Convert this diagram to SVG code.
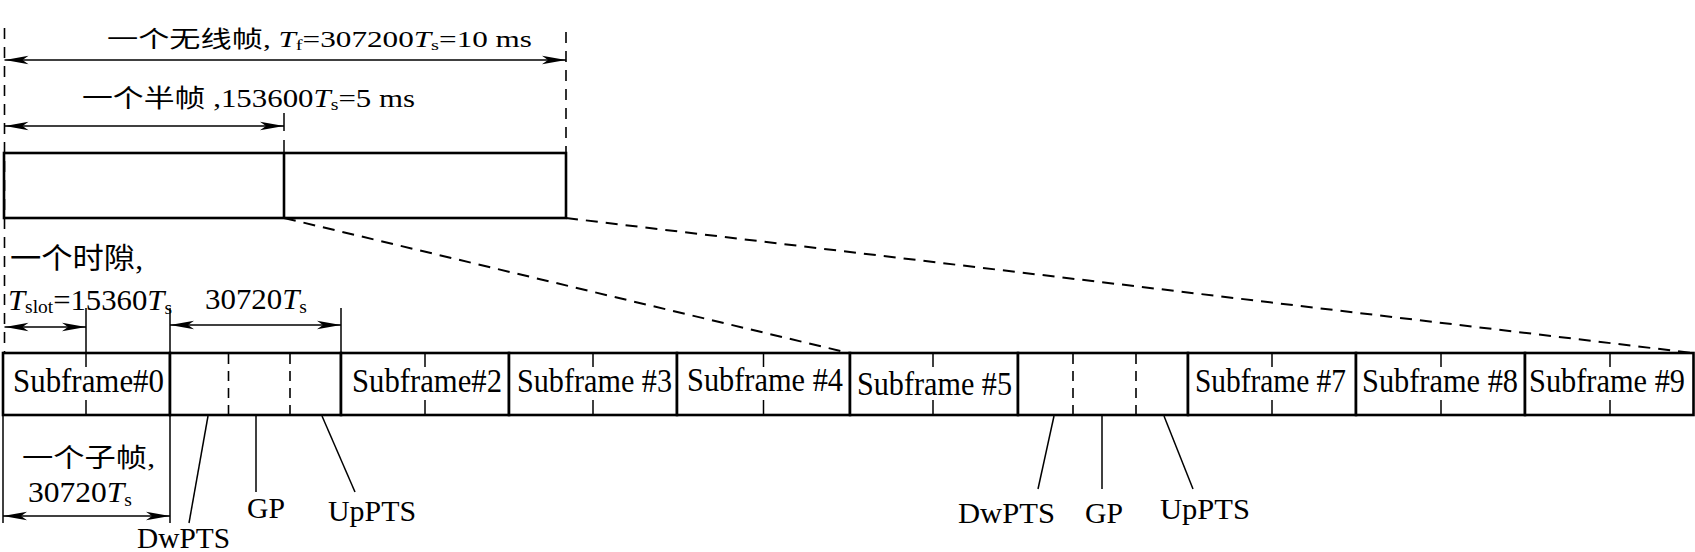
<svg xmlns="http://www.w3.org/2000/svg" width="1695" height="552" viewBox="0 0 1695 552">
<defs>
<marker id="ah" viewBox="0 0 24 10" refX="24" refY="5" markerWidth="24" markerHeight="10" markerUnits="userSpaceOnUse" orient="auto-start-reverse">
<path d="M0,0.8 L24,5 L0,9.2 L6,5 z" fill="#000"/>
</marker>
</defs>
<style>
.thick{stroke:#000;stroke-width:2.6;fill:none}
.box{stroke:#000;stroke-width:2.6;fill:#fff}
.thin{stroke:#000;stroke-width:1.5;fill:none}
.dash{stroke:#000;stroke-width:1.6;fill:none;stroke-dasharray:11 8}
.sdash{stroke:#000;stroke-width:1.6;fill:none;stroke-dasharray:10 7}
.pdash{stroke:#000;stroke-width:2;fill:none;stroke-dasharray:12 8}
.arr{stroke:#000;stroke-width:1.5;fill:none;marker-start:url(#ah);marker-end:url(#ah)}
text{font-family:"Liberation Serif","Noto Sans CJK SC",serif;fill:#000}
.sf{font-size:33px}
.lbl{font-size:29px}
.it{font-style:italic}
</style>
<rect width="1695" height="552" fill="#fff"/>

<g id="radio-frame">
<rect class="box" x="4" y="153" width="562" height="65"/>
<line class="thick" x1="284" y1="153" x2="284" y2="218"/>
</g>

<g id="sf0"><rect class="box" x="3" y="353" width="167" height="62"/><line class="thin" x1="86" y1="400" x2="86" y2="415"/><text class="sf" x="13" y="392" textLength="151" lengthAdjust="spacingAndGlyphs">Subframe#0</text></g>
<g id="sf1"><rect class="box" x="170" y="353" width="171" height="62"/><line class="sdash" x1="228.5" y1="354" x2="228.5" y2="415"/><line class="sdash" x1="290" y1="354" x2="290" y2="415"/></g>
<g id="sf2"><rect class="box" x="341" y="353" width="168" height="62"/><line class="thin" x1="425" y1="353" x2="425" y2="367"/><line class="thin" x1="425" y1="400" x2="425" y2="415"/><text class="sf" x="352" y="392" textLength="150" lengthAdjust="spacingAndGlyphs">Subframe#2</text></g>
<g id="sf3"><rect class="box" x="509" y="353" width="168" height="62"/><line class="thin" x1="593" y1="353" x2="593" y2="367"/><line class="thin" x1="593" y1="400" x2="593" y2="415"/><text class="sf" x="517" y="392" textLength="155" lengthAdjust="spacingAndGlyphs">Subframe #3</text></g>
<g id="sf4"><rect class="box" x="677" y="353" width="173" height="62"/><line class="thin" x1="763.5" y1="353" x2="763.5" y2="367"/><line class="thin" x1="763.5" y1="400" x2="763.5" y2="415"/><text class="sf" x="687" y="391" textLength="156" lengthAdjust="spacingAndGlyphs">Subframe #4</text></g>
<g id="sf5"><rect class="box" x="850" y="353" width="168" height="62"/><line class="thin" x1="933" y1="353" x2="933" y2="367"/><line class="thin" x1="933" y1="400" x2="933" y2="415"/><text class="sf" x="857" y="395" textLength="155" lengthAdjust="spacingAndGlyphs">Subframe #5</text></g>
<g id="sf6"><rect class="box" x="1018" y="353" width="170" height="62"/><line class="sdash" x1="1073" y1="354" x2="1073" y2="415"/><line class="sdash" x1="1136" y1="354" x2="1136" y2="415"/></g>
<g id="sf7"><rect class="box" x="1188" y="353" width="168" height="62"/><line class="thin" x1="1272" y1="353" x2="1272" y2="367"/><line class="thin" x1="1272" y1="400" x2="1272" y2="415"/><text class="sf" x="1195" y="392" textLength="151" lengthAdjust="spacingAndGlyphs">Subframe #7</text></g>
<g id="sf8"><rect class="box" x="1356" y="353" width="169" height="62"/><line class="thin" x1="1441" y1="353" x2="1441" y2="367"/><line class="thin" x1="1441" y1="400" x2="1441" y2="415"/><text class="sf" x="1362" y="392" textLength="156" lengthAdjust="spacingAndGlyphs">Subframe #8</text></g>
<g id="sf9"><rect class="box" x="1525" y="353" width="168.5" height="62"/><line class="thin" x1="1610" y1="353" x2="1610" y2="367"/><line class="thin" x1="1610" y1="400" x2="1610" y2="415"/><text class="sf" x="1529" y="392" textLength="156" lengthAdjust="spacingAndGlyphs">Subframe #9</text></g>

<g id="connectors">
<line class="dash" x1="4.5" y1="28" x2="4.5" y2="353"/>
<line class="dash" x1="566" y1="32" x2="566" y2="153"/>
<line class="arr" x1="4.5" y1="60" x2="566" y2="60"/>
<line class="arr" x1="4.5" y1="126" x2="284" y2="126"/>
<line class="thin" x1="284" y1="113" x2="284" y2="131"/>
<line class="thin" x1="284" y1="140" x2="284" y2="153"/>
<line class="pdash" x1="284" y1="218" x2="849" y2="353"/>
<line class="pdash" x1="566" y1="218" x2="1693" y2="353"/>
<line class="thin" x1="86" y1="308" x2="86" y2="367"/>
<line class="thin" x1="170" y1="308" x2="170" y2="353"/>
<line class="thin" x1="341" y1="308" x2="341" y2="353"/>
<line class="arr" x1="4.5" y1="327" x2="86" y2="327"/>
<line class="arr" x1="170" y1="325" x2="341" y2="325"/>
<line class="thin" x1="3" y1="415" x2="3" y2="523"/>
<line class="thin" x1="170" y1="415" x2="170" y2="523"/>
<line class="arr" x1="3" y1="516" x2="170" y2="516"/>
<line class="thin" x1="208" y1="416" x2="189" y2="523"/>
<line class="thin" x1="256" y1="416" x2="256" y2="492"/>
<line class="thin" x1="322" y1="416" x2="355" y2="492"/>
<line class="thin" x1="1054" y1="416" x2="1038" y2="489"/>
<line class="thin" x1="1102" y1="416" x2="1102" y2="489"/>
<line class="thin" x1="1164" y1="416" x2="1193" y2="489"/>
</g>

<g id="labels">
<text x="107" y="47" font-size="23" textLength="425" lengthAdjust="spacingAndGlyphs">一个无线帧, <tspan class="it">T</tspan><tspan font-size="15" dy="3">f</tspan><tspan dy="-3">=307200</tspan><tspan class="it">T</tspan><tspan font-size="15" dy="3">s</tspan><tspan dy="-3">=10 ms</tspan></text>
<text x="82" y="107" font-size="25" textLength="333" lengthAdjust="spacingAndGlyphs">一个半帧 ,153600<tspan class="it">T</tspan><tspan font-size="16" dy="3">s</tspan><tspan dy="-3">=5 ms</tspan></text>
<text x="10" y="269" font-size="29" textLength="133" lengthAdjust="spacingAndGlyphs">一个时隙,</text>
<text x="8" y="310" font-size="30" textLength="164" lengthAdjust="spacingAndGlyphs"><tspan class="it">T</tspan><tspan font-size="19" dy="3">slot</tspan><tspan dy="-3">=15360</tspan><tspan class="it">T</tspan><tspan font-size="19" dy="4">s</tspan></text>
<text x="205" y="309" font-size="30" textLength="102" lengthAdjust="spacingAndGlyphs">30720<tspan class="it">T</tspan><tspan font-size="19" dy="4">s</tspan></text>
<text x="22" y="467" font-size="26" textLength="133" lengthAdjust="spacingAndGlyphs">一个子帧,</text>
<text x="28" y="502" font-size="29" textLength="104" lengthAdjust="spacingAndGlyphs">30720<tspan class="it">T</tspan><tspan font-size="18" dy="4">s</tspan></text>
<text class="lbl" x="137" y="548" textLength="93" lengthAdjust="spacingAndGlyphs">DwPTS</text>
<text class="lbl" x="247" y="518" textLength="38" lengthAdjust="spacingAndGlyphs">GP</text>
<text class="lbl" x="328" y="521" textLength="88" lengthAdjust="spacingAndGlyphs">UpPTS</text>
<text class="lbl" x="958" y="523" textLength="97" lengthAdjust="spacingAndGlyphs">DwPTS</text>
<text class="lbl" x="1085" y="523" textLength="38" lengthAdjust="spacingAndGlyphs">GP</text>
<text class="lbl" x="1160" y="519" textLength="90" lengthAdjust="spacingAndGlyphs">UpPTS</text>
</g>
</svg>
